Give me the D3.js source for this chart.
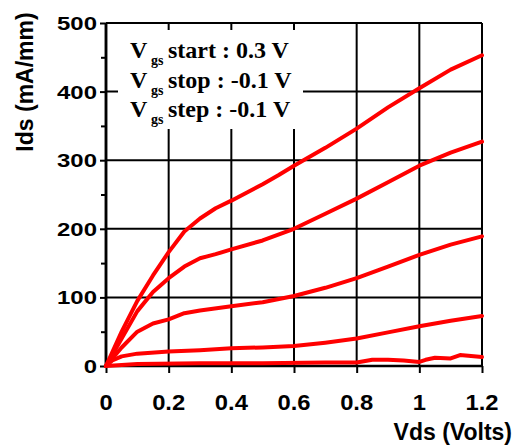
<!DOCTYPE html>
<meta charset="utf-8">
<html>
<script src='https://d3js.org/d3.v7.min.js'></script>
<body style="margin:0; background:white;">
<style>
    .tickLabel {
        font-family: "Liberation Sans", Arial, sans-serif;
        font-weight: bold;
        fill: black;
    }
    .axisTitle {
        font-family: "Liberation Sans", Arial, sans-serif;
        font-weight: bold;
        font-size: 23px;
        fill: black;
    }
    .note {
        font-family: "Liberation Serif", "Times New Roman", serif;
        font-weight: bold;
        font-size: 24px;
        fill: black;
    }
</style>
<div id="mydataviz"></div>

<script>

    //curve data: Vds (V) and Ids (mA/mm), one curve per Vgs step
    var vgsSteps = ["0.3", "0.2", "0.1", "0", "-0.1"];

    var vds1 = [0, 0.05, 0.1, 0.15, 0.2, 0.25, 0.3, 0.35, 0.4, 0.45, 0.5, 0.55, 0.6, 0.7, 0.8, 0.9, 1.0, 1.1, 1.2];
    var ids1 = [0, 50, 95, 132, 166, 196, 215, 230, 241, 253, 265, 278, 292, 318, 346, 377, 405, 432, 453];

    var vds2 = [0, 0.05, 0.1, 0.15, 0.2, 0.25, 0.3, 0.35, 0.4, 0.5, 0.6, 0.7, 0.8, 0.9, 1.0, 1.1, 1.2];
    var ids2 = [0, 40, 80, 108, 128, 145, 157, 163, 170, 183, 200, 222, 244, 268, 292, 311, 327];

    var vds3 = [0, 0.05, 0.1, 0.15, 0.2, 0.25, 0.3, 0.4, 0.5, 0.6, 0.7, 0.8, 0.9, 1.0, 1.1, 1.2];
    var ids3 = [0, 27, 50, 62, 68, 77, 81, 87, 93, 102, 114, 128, 145, 162, 177, 189];

    var vds4 = [0, 0.02, 0.05, 0.1, 0.2, 0.3, 0.4, 0.5, 0.6, 0.7, 0.8, 0.9, 1.0, 1.1, 1.2];
    var ids4 = [0, 8, 14, 18, 21, 23, 26, 27, 29, 34, 40, 49, 58, 66, 73];

    var vds5 = [0, 0.1, 0.3, 0.5, 0.7, 0.8, 0.85, 0.9, 0.95, 1.0, 1.02, 1.05, 1.1, 1.13, 1.2];
    var ids5 = [0, 3, 4, 4, 5, 5, 9, 9, 8, 6, 9, 12, 11, 16, 13];

    //tick values
    var xTicks = [0, 0.2, 0.4, 0.6, 0.8, 1, 1.2];
    var xTickLabels = ["0", "0.2", "0.4", "0.6", "0.8", "1", "1.2"];
    var yTicks = [0, 100, 200, 300, 400, 500];
    var yMinorTicks = [50, 150, 250, 350, 450];

    var curves = [[vds1, ids1], [vds2, ids2], [vds3, ids3], [vds4, ids4], [vds5, ids5]];

    //set margin
    var margin = {top: 23, right: 37, bottom: 80, left: 106},
    width = 519 - margin.left - margin.right,
    height = 446 - margin.top - margin.bottom;

    //create svg and g
    var root = d3.select("#mydataviz").append("svg")
        .attr("width", 519)
        .attr("height", 446);

    var svg = root.append("g")
        .attr("transform", "translate(" + margin.left + "," + margin.top + ")");

    //set ranges
    var x = d3.scaleLinear().domain([0, 1.2]).range([0, width]);
    var y = d3.scaleLinear().domain([0, 500]).range([height, 0]);

    //grid lines
    svg.selectAll("vgrid")
        .data(xTicks.slice(1))
        .enter().append("line")
        .attr("x1", function(d) {return x(d);})
        .attr("x2", function(d) {return x(d);})
        .attr("y1", y(500))
        .attr("y2", y(0))
        .style("stroke", "black")
        .style("stroke-width", 2);

    svg.selectAll("hgrid")
        .data(yTicks.slice(1))
        .enter().append("line")
        .attr("x1", 0)
        .attr("x2", width)
        .attr("y1", function(d) {return y(d);})
        .attr("y2", function(d) {return y(d);})
        .style("stroke", "black")
        .style("stroke-width", 2);

    //x axis
    var xAxis = svg.append("g")
        .attr("transform", "translate(0," + height + ")")
        .call(d3.axisBottom(x).tickValues(xTicks).tickSize(7).tickFormat(""));

    //y axis (major + minor ticks)
    var yAxis = svg.append("g")
        .call(d3.axisLeft(y).tickValues(yTicks).tickSize(6).tickFormat(""));
    svg.append("g")
        .call(d3.axisLeft(y).tickValues(yMinorTicks).tickSize(5).tickFormat(""));

    svg.selectAll(".domain").style("stroke", "black").style("stroke-width", 2.5);
    svg.selectAll(".tick line").style("stroke", "black").style("stroke-width", 2);
    svg.selectAll(".domain").attr("d", function() {
        return d3.select(this.parentNode).attr("transform") ? "M0,0H" + width : "M0,0V" + height;
    });

    //tick labels
    svg.selectAll("xlab")
        .data(xTicks)
        .enter().append("text")
        .attr("class", "tickLabel")
        .attr("x", function(d) {return x(d);})
        .attr("y", height + 44)
        .attr("text-anchor", "middle")
        .style("font-size", "22px")
        .text(function(d, i) {return xTickLabels[i];})
        .each(function() {
            this.setAttribute("textLength", this.getComputedTextLength() * 1.08);
            this.setAttribute("lengthAdjust", "spacingAndGlyphs");
        });

    svg.selectAll("ylab")
        .data(yTicks)
        .enter().append("text")
        .attr("class", "tickLabel")
        .attr("x", -9)
        .attr("y", function(d) {return y(d) + 7;})
        .attr("text-anchor", "end")
        .style("font-size", "18px")
        .text(function(d) {return d;})
        .each(function() {
            this.setAttribute("textLength", this.getComputedTextLength() * 1.33);
            this.setAttribute("lengthAdjust", "spacingAndGlyphs");
        });

    //axis titles
    root.append("text")
        .attr("class", "axisTitle")
        .attr("text-anchor", "end")
        .attr("x", 512)
        .attr("y", 440)
        .text("Vds (Volts)");

    root.append("text")
        .attr("class", "axisTitle")
        .attr("text-anchor", "middle")
        .attr("transform", "translate(33,82) rotate(-90)")
        .text("Ids (mA/mm)");

    //curves
    var line = d3.line()
        .x(function(d) {return x(d[0]);})
        .y(function(d) {return y(d[1]);});

    svg.selectAll("curve")
        .data(curves)
        .enter().append("path")
        .attr("d", function(c) {return line(c[0].map(function(v, i) {return [v, c[1][i]];}));})
        .style("fill", "none")
        .style("stroke", "#ff0000")
        .style("stroke-width", 4)
        .style("stroke-linejoin", "round")
        .style("stroke-linecap", "round");

    //annotation box
    root.append("rect")
        .attr("x", 118)
        .attr("y", 30)
        .attr("width", 185)
        .attr("height", 99)
        .style("fill", "white");

    var notes = [["start", " : " + vgsSteps[0] + " V"], ["stop", " : " + vgsSteps[vgsSteps.length - 1] + " V"], ["step", " : -0.1 V"]];
    var noteY = [58, 87.5, 117];

    notes.forEach(function(n, i) {
        var t = root.append("text").attr("class", "note").attr("y", noteY[i]);
        t.append("tspan").attr("x", 130).text("V");
        t.append("tspan").attr("x", 151).attr("dy", 7).style("font-size", "14px").text("gs");
        t.append("tspan").attr("x", 168).attr("dy", -7).text(n[0] + n[1]);
    });

</script>

</body>
</html>
